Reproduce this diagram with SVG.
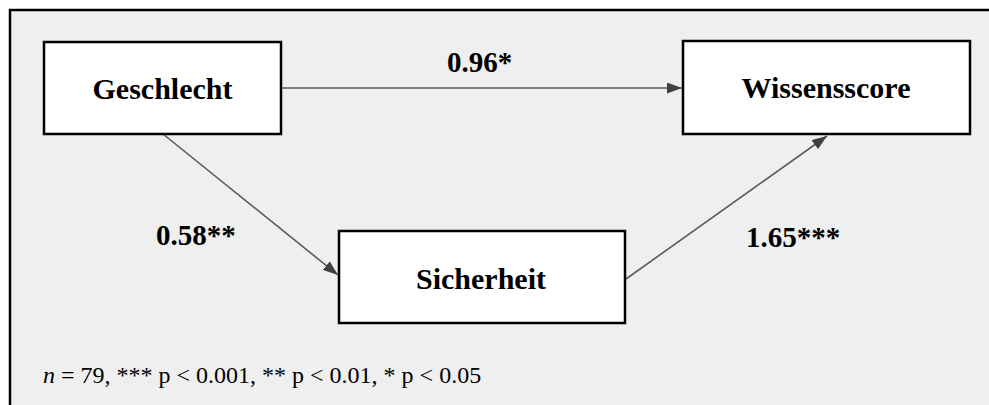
<svg xmlns="http://www.w3.org/2000/svg" width="989" height="405" viewBox="0 0 989 405">
  <style>
    .box { fill: #ffffff; stroke: #000000; stroke-width: 2.5; }
    .lbl { font-family: "Liberation Serif", "Times New Roman", serif; font-weight: bold; font-size: 30px; fill: #000; }
    .coef { font-family: "Liberation Serif", "Times New Roman", serif; font-weight: bold; font-size: 29px; fill: #000; }
    .edge { stroke: #5a5a5a; stroke-width: 1.6; fill: none; marker-end: url(#head); }
    .note { font-family: "Liberation Serif", "Times New Roman", serif; font-size: 24px; fill: #000; }
  </style>
  <defs>
    <marker id="head" viewBox="0 0 15 11" refX="15" refY="5.5" markerWidth="15" markerHeight="11" markerUnits="userSpaceOnUse" orient="auto">
      <path d="M0,0 L15,5.5 L0,11 Z" fill="#404040"/>
    </marker>
  </defs>

  <!-- panel background and frame -->
  <rect x="0" y="0" width="989" height="405" fill="#ffffff"/>
  <rect x="10" y="10" width="979" height="395" fill="#efefef"/>
  <path d="M10,405 L10,10 L989,10" fill="none" stroke="#000" stroke-width="2.5"/>

  <!-- paths -->
  <g id="connectors">
    <line class="edge" x1="282" y1="88" x2="682" y2="88"/>
    <line class="edge" x1="163" y1="134" x2="338" y2="275"/>
    <line class="edge" x1="626" y1="279" x2="827" y2="136"/>
  </g>

  <g id="node-geschlecht">
    <rect class="box" x="44" y="42" width="237" height="92"/>
    <text class="lbl" x="162.5" y="99" text-anchor="middle">Geschlecht</text>
  </g>

  <g id="node-wissensscore">
    <rect class="box" x="683" y="41" width="287" height="93"/>
    <text class="lbl" x="826" y="98" text-anchor="middle">Wissensscore</text>
  </g>

  <g id="node-sicherheit">
    <rect class="box" x="339" y="231" width="286" height="92"/>
    <text class="lbl" x="481" y="289" text-anchor="middle">Sicherheit</text>
  </g>

  <!-- path coefficients -->
  <g id="coefficients">
    <text class="coef" x="447" y="72">0.96*</text>
    <text class="coef" x="156" y="245">0.58**</text>
    <text class="coef" x="746" y="247">1.65***</text>
  </g>

  <text class="note" x="43" y="383"><tspan font-style="italic">n</tspan> = 79, *** p &lt; 0.001, ** p &lt; 0.01, * p &lt; 0.05</text>
</svg>
